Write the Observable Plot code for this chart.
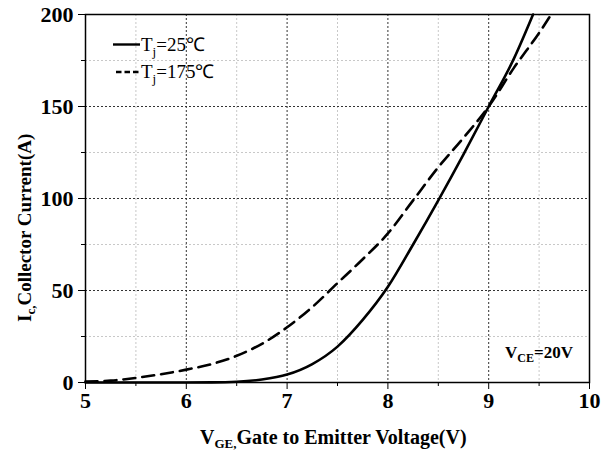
<!DOCTYPE html>
<html><head><meta charset="utf-8">
<script src="https://cdn.jsdelivr.net/npm/d3@7"></script>
<script src="https://cdn.jsdelivr.net/npm/@observablehq/plot@0.6"></script>
<style>
body{margin:0;background:#fff}
svg text{font-family:'Liberation Serif','Times New Roman',serif !important;font-variant:normal !important;}
</style>
</head><body><div id="chart"></div>
<script>
// Tj = 25°C
const vgeT25 = [5.0, 5.5, 6.0, 6.25, 6.5, 6.75, 7.0, 7.25, 7.5, 7.75, 8.0, 8.25, 8.5, 8.75, 9.0, 9.25, 9.44];
const icT25  = [0, 0, 0, 0.05, 0.4, 1.6, 4.3, 10, 19.5, 34, 52, 75, 99, 124, 150, 176, 200];
// Tj = 175°C
const vgeT175 = [5.0, 5.25, 5.5, 5.75, 6.0, 6.25, 6.5, 6.75, 7.0, 7.25, 7.5, 7.75, 8.0, 8.25, 8.5, 8.75, 9.0, 9.25, 9.5, 9.62];
const icT175  = [0.5, 1, 2.5, 4.5, 7, 10, 14.5, 21, 30, 41, 54, 67, 81, 99, 117, 133, 150, 171, 190, 200];

const xTicks = [5, 6, 7, 8, 9, 10];
const yTicks = [0, 50, 100, 150, 200];
const xMinor = [5.5, 6.5, 7.5, 8.5, 9.5];
const yMinor = [25, 75, 125, 175];
const xGrid = [6, 7, 8, 9];
const yGrid = [50, 100, 150];

const d25 = vgeT25.map((v, i) => ({vge: v, ic: icT25[i]}));
const d175 = vgeT175.map((v, i) => ({vge: v, ic: icT175[i]}));

const font = "Liberation Serif, Times New Roman, serif";

const plot = Plot.plot({
  width: 602,
  height: 452,
  marginLeft: 85,
  marginRight: 13,
  marginTop: 14,
  marginBottom: 70,
  style: {fontFamily: font, background: "#fff", color: "#000"},
  x: {domain: [5, 10]},
  y: {domain: [0, 200]},
  marks: [
    Plot.ruleX(xMinor, {stroke: "#c8c8c8", strokeDasharray: "2,2"}),
    Plot.ruleY(yMinor, {stroke: "#c8c8c8", strokeDasharray: "2,2"}),
    Plot.ruleX(xGrid, {stroke: "#333", strokeDasharray: "2,2"}),
    Plot.ruleY(yGrid, {stroke: "#333", strokeDasharray: "2,2"}),
    Plot.line(d175, {x: "vge", y: "ic", stroke: "#000", strokeWidth: 2.6, strokeDasharray: "12,7", curve: "monotone-x"}),
    Plot.line(d25, {x: "vge", y: "ic", stroke: "#000", strokeWidth: 2.6, curve: "monotone-x"}),
    Plot.frame({stroke: "#000", strokeWidth: 1.5}),
    Plot.axisX({ticks: xTicks, tickSize: 7, tickPadding: 3, fontSize: 22, fontWeight: "bold", fontFamily: font, fontVariant: "normal", label: null, tickFormat: d => String(d)}),
    Plot.axisX({ticks: xMinor, tickSize: 4, text: null, label: null}),
    Plot.axisY({ticks: yTicks, tickSize: 7, tickPadding: 5, fontSize: 22, fontWeight: "bold", fontFamily: font, fontVariant: "normal", label: null, tickFormat: d => String(d)}),
    Plot.axisY({ticks: yMinor, tickSize: 4, text: null, label: null})
  ]
});

document.getElementById("chart").appendChild(plot);
const svg = d3.select(plot);
svg.selectAll("text").each(function() {
  this.style.setProperty("font-family", "'Liberation Serif', 'Times New Roman', serif", "important");
});

function subText(g, x, y, parts, opts) {
  const t = g.append("text")
    .attr("x", x).attr("y", y)
    .attr("text-anchor", "start")
    .attr("font-family", font)
    .attr("font-size", opts.size)
    .attr("font-weight", opts.weight || "normal")
    .attr("fill", "#000");
  if (opts.rotate) t.attr("transform", `rotate(-90 ${x} ${y})`);
  parts.forEach(p => {
    const ts = t.append("tspan").text(p.t);
    if (p.sub) ts.attr("font-size", opts.subSize).attr("dy", opts.subShift);
    else if (p.back) ts.attr("dy", -opts.subShift);
  });
  return t;
}

// Legend
svg.append("line").attr("x1", 113).attr("x2", 140).attr("y1", 44.5).attr("y2", 44.5)
  .attr("stroke", "#000").attr("stroke-width", 2.4);
subText(svg, 141, 51, [{t: "T"}, {t: "j", sub: true}, {t: "=25℃", back: true}], {size: 19, subSize: 13, subShift: 5});
svg.append("line").attr("x1", 116).attr("x2", 139).attr("y1", 72).attr("y2", 72)
  .attr("stroke", "#000").attr("stroke-width", 2.4).attr("stroke-dasharray", "5.5,3");
subText(svg, 141, 78, [{t: "T"}, {t: "j", sub: true}, {t: "=175℃", back: true}], {size: 19, subSize: 13, subShift: 5});

// V_CE annotation
subText(svg, 505, 358, [{t: "V"}, {t: "CE", sub: true}, {t: "=20V", back: true}], {size: 17, weight: "bold", subSize: 12, subShift: 4});

// Axis labels
subText(svg, 200, 444, [{t: "V"}, {t: "GE,", sub: true}, {t: "Gate to Emitter Voltage(V)", back: true}], {size: 20, weight: "bold", subSize: 13, subShift: 4});
subText(svg, 31, 322, [{t: "I"}, {t: "c,", sub: true}, {t: "Collector Current(A)", back: true}], {size: 19, weight: "bold", subSize: 13, subShift: 4, rotate: true});
</script>
</body></html>
